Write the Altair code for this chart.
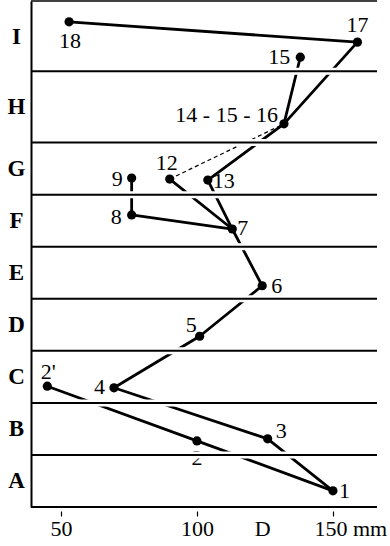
import altair as alt
import pandas as pd

# Layers of the section, bottom to top, and the level where each one ends
layers = ["A", "B", "C", "D", "E", "F", "G", "H", "I"]
layer_tops = [1, 2, 3, 4, 5, 6, 7, 8.37, 9.72]

# Positions: size in mm and level within the section
point_keys = ["1", "2", "2'", "3", "4", "5", "6", "7", "8", "9",
              "12", "13", "16", "15", "17", "18"]
point_labels = ["1", "2", "2'", "3", "4", "5", "6", "7", "8", "9",
                "12", "13", "14 - 15 - 16", "15", "17", "18"]
point_mm = [150, 100, 45, 126, 69.5, 101, 124, 113, 76, 76,
            90, 104, 132, 138, 159, 53]
point_level = [0.31, 1.27, 2.32, 1.31, 2.29, 3.28, 4.25, 5.34, 5.61, 6.32,
               6.30, 6.28, 7.36, 8.64, 8.93, 9.32]

# Links between positions
solid_links = [("1", "2"), ("2", "2'"), ("1", "3"), ("3", "4"), ("4", "5"),
               ("5", "6"), ("6", "7"), ("7", "8"), ("8", "9"), ("7", "12"),
               ("7", "13"), ("13", "16"), ("16", "15"), ("16", "17"),
               ("17", "18")]
dashed_links = [("12", "16")]

# x axis
x_ticks = [50, 100, 150]
d_value = 124
x_min, x_max = 39, 166.2

# Label placement: (align, dx, dy)
label_place = {
    "1": ("left", 6, 0), "2": ("center", 0, 17), "2'": ("center", 1, -14),
    "3": ("left", 8, -8), "4": ("right", -9, -1), "5": ("right", -3, -11),
    "6": ("left", 9, 0), "7": ("left", 5, -1), "8": ("right", -10, 2),
    "9": ("right", -9, 1), "12": ("center", -3, -16), "13": ("left", 5, 1),
    "16": ("right", -6, -9), "15": ("right", -10, 0), "17": ("center", 0, -17),
    "18": ("center", 1, 19),
}

FONT = "Liberation Serif"
W, H = 346, 506

points = pd.DataFrame({"key": point_keys, "label": point_labels,
                       "mm": point_mm, "level": point_level})
pos = {k: (m, l) for k, m, l in zip(point_keys, point_mm, point_level)}


def link_table(links):
    rows = []
    for i, (a, b) in enumerate(links):
        for step, k in enumerate((a, b)):
            rows.append({"link": i, "step": step, "mm": pos[k][0], "level": pos[k][1]})
    return pd.DataFrame(rows)


mids = []
lo = 0
for t in layer_tops:
    mids.append(round((lo + t) / 2, 4))
    lo = t

letters_js = "[" + ",".join(f"'{s}'" for s in layers) + "]"
mids_js = "[" + ",".join(str(m) for m in mids) + "]"

x_enc = alt.X(
    "mm:Q",
    scale=alt.Scale(domain=[x_min, x_max], nice=False, zero=False),
    axis=alt.Axis(
        values=x_ticks + [d_value],
        labelExpr=f"datum.value == {d_value} ? 'D' : datum.value == 150 ? '150 mm' : datum.label",
        title=None, domain=False, grid=False, offset=4, tickSize=5,
        tickColor="black", tickWidth=1.2,
        tickOpacity={"condition": {"test": f"datum.value == {d_value}", "value": 0}, "value": 1},
        labelAlign={"condition": {"test": "datum.value == 150", "value": "left"}, "value": "center"},
        labelOffset={"condition": {"test": "datum.value == 150", "value": -19}, "value": 0},
        labelFont=FONT, labelFontSize=22, labelColor="black", labelPadding=2,
        labelFlush=False, labelOverlap=False,
    ),
)
y_enc = alt.Y(
    "level:Q",
    scale=alt.Scale(domain=[0, layer_tops[-1]], nice=False, zero=False),
    axis=alt.Axis(
        values=mids, labelExpr=f"{letters_js}[indexof({mids_js}, datum.value)]",
        title=None, grid=False, ticks=False, tickSize=0, domain=True,
        domainColor="black", domainWidth=2, zindex=1,
        labelFont=FONT, labelFontSize=23, labelFontWeight="bold",
        labelColor="black", labelAlign="center", labelBaseline="middle",
        labelPadding=15, labelOverlap=False,
    ),
)

solid = alt.Chart(link_table(solid_links)).mark_line(
    color="black", strokeWidth=2.8, strokeCap="round"
).encode(x=x_enc, y=y_enc, detail="link:N", order="step:Q")

dashed = alt.Chart(link_table(dashed_links)).mark_line(
    color="black", strokeWidth=1.2, strokeDash=[4, 3]
).encode(x=x_enc, y=y_enc, detail="link:N", order="step:Q")

dots = alt.Chart(points).mark_circle(size=85, color="black", opacity=1).encode(
    x=x_enc, y=y_enc
)

label_layers = []
groups = {}
for k, p in label_place.items():
    groups.setdefault(p, []).append(k)
for (align, dx, dy), keys in groups.items():
    label_layers.append(
        alt.Chart(points)
        .transform_filter(alt.FieldOneOfPredicate(field="key", oneOf=keys))
        .mark_text(font=FONT, fontSize=22, color="black", align=align,
                   baseline="middle", dx=dx, dy=dy)
        .encode(x=x_enc, y=y_enc, text="label:N")
    )

bounds = pd.DataFrame({"level": layer_tops[:-1]})
halo = alt.Chart(bounds).mark_rule(color="white", strokeWidth=7).encode(y=y_enc)
rules = alt.Chart(bounds).mark_rule(color="black", strokeWidth=2).encode(y=y_enc)
top_rule = alt.Chart(pd.DataFrame({"level": [layer_tops[-1]]})).mark_rule(
    color="black", strokeWidth=1.5).encode(y=y_enc)
base_rule = alt.Chart(pd.DataFrame({"level": [0]})).mark_rule(
    color="black", strokeWidth=2).encode(y=y_enc)

chart = alt.layer(
    solid, dashed, dots, *label_layers, halo, rules, top_rule, base_rule
).properties(
    width=W, height=H,
    padding={"left": 31, "top": 1, "right": 13, "bottom": 39},
    autosize=alt.AutoSizeParams(type="none"),
    background="white",
).configure_view(stroke=None)

chart.save("out.html", embed_options={"renderer": "svg", "actions": False})
